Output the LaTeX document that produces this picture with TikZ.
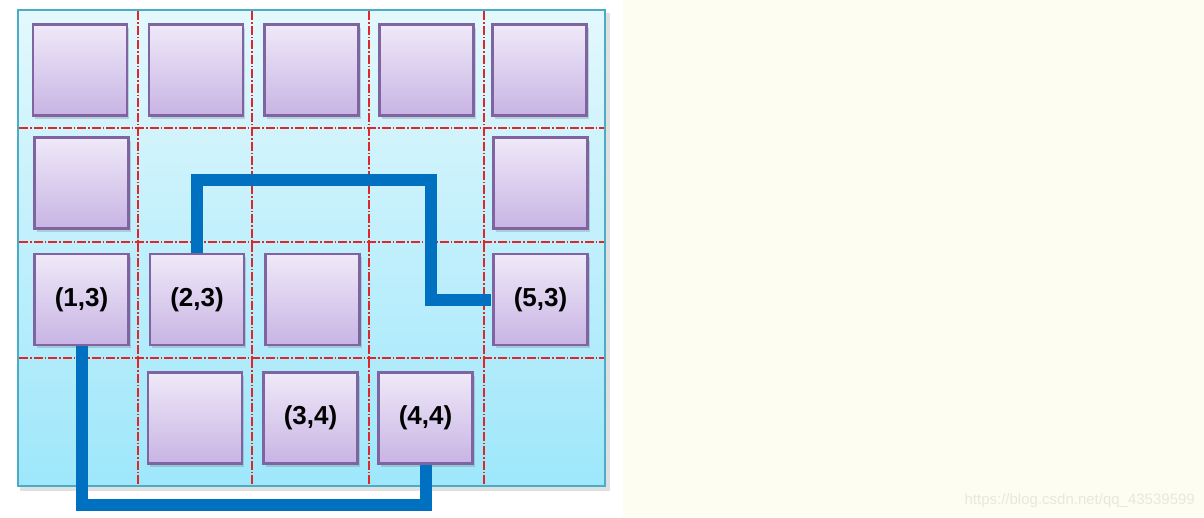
\documentclass[tikz,border=0pt]{standalone}
\usepackage{fontspec}
\setmainfont{Liberation Sans}
\usetikzlibrary{shadows}
\definecolor{bgyellow}{RGB}{253,253,241}
\definecolor{boardedge}{RGB}{75,172,198}
\definecolor{boardtop}{RGB}{227,248,253}
\definecolor{boardbot}{RGB}{158,231,251}
\definecolor{tiletop}{RGB}{239,233,248}
\definecolor{tilebot}{RGB}{200,180,228}
\definecolor{tileedge}{RGB}{128,100,162}
\definecolor{gridred}{RGB}{220,40,40}
\definecolor{pathblue}{RGB}{0,112,192}
\definecolor{wmark}{RGB}{232,232,222}
\tikzset{
  tile/.style={draw=tileedge, line width=2.6pt, top color=tiletop, bottom color=tilebot,
    minimum width=94pt, minimum height=91pt, inner sep=0pt,
    drop shadow={shadow xshift=2pt, shadow yshift=-3pt, opacity=0.25, fill=black!60},
    font=\bfseries\fontsize{26}{26}\selectfont},
  gridline/.style={draw=gridred, line width=1.1pt, dash pattern=on 9pt off 2pt on 1.5pt off 2pt},
  route/.style={draw=pathblue, line width=12pt, line join=miter, line cap=butt},
}
\begin{document}
\begin{tikzpicture}[x=1pt,y=-1pt]
\useasboundingbox (0,0) rectangle (1204,517);
\fill[white] (0,0) rectangle (623,517);
\fill[bgyellow] (623,0) rectangle (1204,517);
% board
\fill[black, opacity=0.12] (20,13) rectangle (610,491);
\shade[top color=boardtop, bottom color=boardbot] (18,10) rectangle (605,486);
\draw[boardedge, line width=2.5pt] (18,10) rectangle (605,486);
% grid
\foreach \gx in {138,252,369,484} \draw[gridline] (\gx,11) -- (\gx,485);
\foreach \gy in {128,242,358} \draw[gridline] (19,\gy) -- (604,\gy);
% tiles
\node[tile] (t11) at (80,70) {};
\node[tile] (t21) at (196,70) {};
\node[tile] (t31) at (311.5,70) {};
\node[tile] (t41) at (426.5,70) {};
\node[tile] (t51) at (539.5,70) {};
\node[tile] (t12) at (81.5,183) {};
\node[tile] (t52) at (540.5,183) {};
\node[tile] (t13) at (81.5,299.5) {(1,3)};
\node[tile] (t23) at (197,299.5) {(2,3)};
\node[tile] (t33) at (312.5,299.5) {};
\node[tile] (t53) at (540.5,299.5) {(5,3)};
\node[tile] (t24) at (195,418) {};
\node[tile] (t34) at (310.5,418) {(3,4)};
\node[tile] (t44) at (425.5,418) {(4,4)};
% routes
\coordinate (c1) at (431,180);
\coordinate (c2) at (t44.south |- 0,505);
\draw[route, shorten >=1.3pt] (t23.north) |- (c1) |- (t53.west);
\draw[route] (t13.south) |- (c2) -- (t44.south);
% watermark
\node[anchor=base east, text=wmark, font=\fontsize{15}{15}\selectfont, inner sep=0pt] (wm) at (1195,504) {https://blog.csdn.net/qq\_43539599};
\end{tikzpicture}
\end{document}
